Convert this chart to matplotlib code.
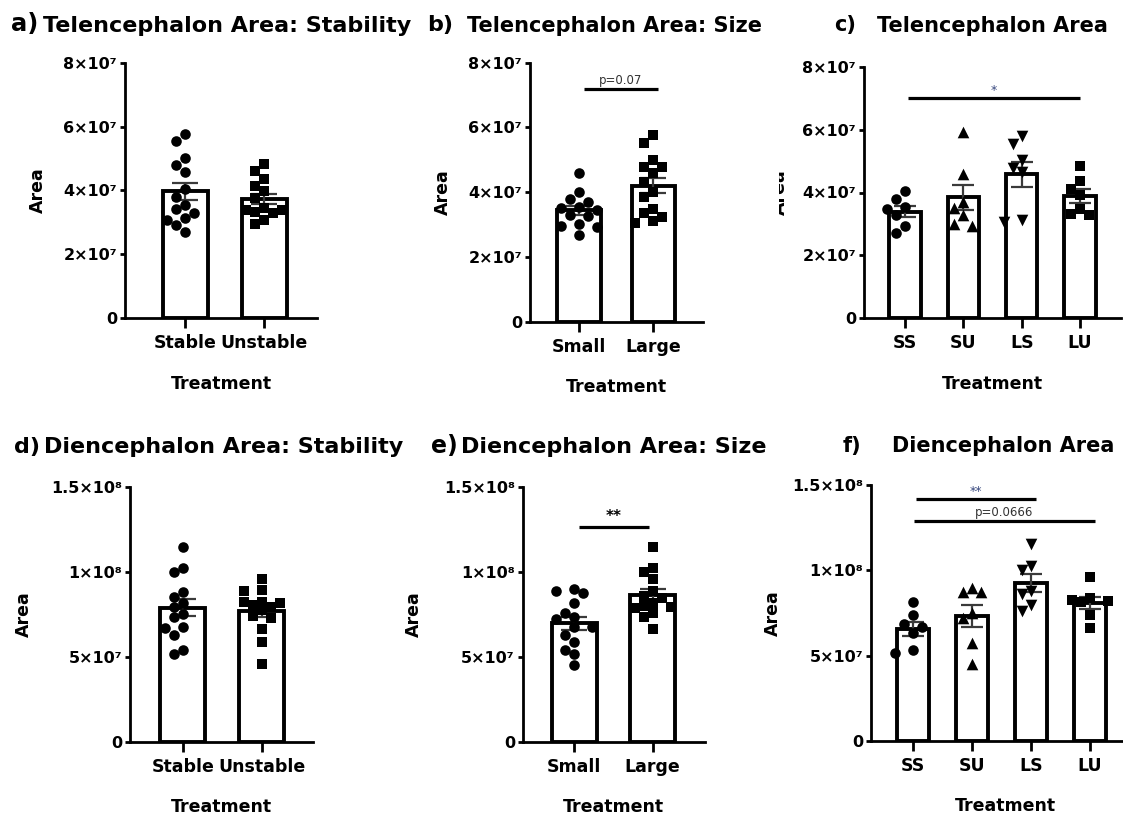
import numpy as np
import matplotlib
matplotlib.use("Agg")
import matplotlib.pyplot as plt
from matplotlib.transforms import Bbox, TransformedBbox

W, H = 1123, 816
plt.rcParams["font.family"] = "DejaVu Sans"

# ── Data (areas in units of 1e7) ──────────────────────────────────────────────
stab_groups = ["Stable", "Unstable"]
size_groups = ["Small", "Large"]
treat_groups = ["SS", "SU", "LS", "LU"]

tel_stable   = [5.77, 5.55, 5.02, 4.80, 4.58, 4.04, 3.79, 3.54, 3.42, 3.29, 3.13, 3.07, 2.92, 2.70]
tel_unstable = [4.83, 4.60, 4.36, 4.13, 3.98, 3.75, 3.45, 3.40, 3.38, 3.32, 3.28, 3.07, 2.95]
tel_small    = [4.60, 4.01, 3.78, 3.70, 3.55, 3.50, 3.45, 3.29, 3.25, 3.02, 2.95, 2.93, 2.68]
tel_large    = [5.77, 5.53, 4.99, 4.79, 4.79, 4.58, 4.33, 4.02, 3.86, 3.47, 3.35, 3.24, 3.12, 3.04]
tel_ss = [4.04, 3.79, 3.54, 3.46, 3.28, 2.93, 2.70]
tel_su = [5.92, 4.60, 3.70, 3.52, 3.28, 2.99, 2.93]
tel_ls = [5.80, 5.55, 5.02, 4.78, 4.66, 3.14, 3.07]
tel_lu = [4.83, 4.36, 4.10, 3.92, 3.49, 3.31, 3.28]

die_stable   = [11.48, 10.21, 10.01, 8.84, 8.55, 8.19, 7.96, 7.53, 7.33, 6.79, 6.73, 6.30, 5.42, 5.16]
die_unstable = [9.58, 8.92, 8.88, 8.25, 8.25, 8.19, 8.05, 7.96, 7.75, 7.41, 7.30, 6.63, 5.90, 4.58]
die_small    = [8.98, 8.88, 8.78, 8.16, 7.61, 7.33, 7.24, 6.75, 6.75, 6.30, 5.90, 5.42, 5.18, 4.54]
die_large    = [11.48, 10.21, 10.01, 9.56, 8.90, 8.60, 8.45, 8.20, 8.00, 7.92, 7.90, 7.61, 7.37, 6.63]
die_ss = [8.16, 7.38, 6.84, 6.70, 6.35, 5.33, 5.18]
die_su = [8.95, 8.75, 8.75, 7.50, 7.19, 5.75, 4.49]
die_ls = [11.54, 10.25, 10.02, 8.79, 8.60, 7.97, 7.62]
die_lu = [9.60, 8.35, 8.25, 8.20, 8.15, 7.38, 6.60]

tel_ticks = [0, 2, 4, 6, 8]
tel_ticklabels = ["0", "2×10⁷", "4×10⁷", "6×10⁷", "8×10⁷"]
die_ticks = [0, 5, 10, 15]
die_ticklabels = ["0", "5×10⁷", "1×10⁸", "1.5×10⁸"]

# significance brackets: (x0, x1, y, label, style)
sig_b = [(0.07, 1.06, 7.2, "p=0.07", "p")]
sig_c = [(0.05, 3.0, 7.0, "*", "star_c")]
sig_e = [(0.06, 0.95, 12.65, "**", "star_e")]
sig_f = [(0.06, 2.08, 14.16, "**", "star_c"), (0.02, 3.08, 12.91, "p=0.0666", "p")]

panels = [
    dict(tag="a)", title="Telencephalon Area: Stability", groups=stab_groups,
         data=[tel_stable, tel_unstable], markers=["o", "s"], yt=tel_ticks, ytl=tel_ticklabels,
         sig=[], box=(125, 63, 317, 318), xlim=(-0.76, 1.67), bw=0.57,
         tagpos=(11, 31.5, 17.5), titlepos=(43, 31.5, 16), ylab_x=47, xlab_y=375),
    dict(tag="b)", title="Telencephalon Area: Size", groups=size_groups,
         data=[tel_small, tel_large], markers=["o", "s"], yt=tel_ticks, ytl=tel_ticklabels,
         sig=sig_b, box=(530, 62.7, 703, 321.7), xlim=(-0.66, 1.67), bw=0.58,
         tagpos=(427, 31.5, 16), titlepos=(467, 31.5, 15), ylab_x=452, xlab_y=378),
    dict(tag="c)", title="Telencephalon Area", groups=treat_groups,
         data=[tel_ss, tel_su, tel_ls, tel_lu], markers=["o", "^", "v", "s"], yt=tel_ticks,
         ytl=tel_ticklabels, sig=sig_c, box=(864, 66.7, 1121, 318.3), xlim=(-0.70, 3.70), bw=0.54,
         tagpos=(834, 31.5, 15), titlepos=(877, 31.5, 15), ylab_x=789, xlab_y=375),
    dict(tag="d)", title="Diencephalon Area: Stability", groups=stab_groups,
         data=[die_stable, die_unstable], markers=["o", "s"], yt=die_ticks, ytl=die_ticklabels,
         sig=[], box=(130, 486.7, 313, 742.3), xlim=(-0.67, 1.65), bw=0.57,
         tagpos=(14, 453, 16), titlepos=(44, 453, 16), ylab_x=33, xlab_y=798),
    dict(tag="e)", title="Diencephalon Area: Size", groups=size_groups,
         data=[die_small, die_large], markers=["o", "s"], yt=die_ticks, ytl=die_ticklabels,
         sig=sig_e, box=(522.7, 486.7, 705, 742.3), xlim=(-0.66, 1.67), bw=0.57,
         tagpos=(431, 453, 17), titlepos=(461, 453, 16), ylab_x=423, xlab_y=798),
    dict(tag="f)", title="Diencephalon Area", groups=treat_groups,
         data=[die_ss, die_su, die_ls, die_lu], markers=["o", "^", "v", "s"], yt=die_ticks,
         ytl=die_ticklabels, sig=sig_f, box=(871, 485, 1140, 741), xlim=(-0.71, 3.85), bw=0.54,
         tagpos=(843, 452, 15), titlepos=(892, 452, 15), ylab_x=782, xlab_y=797),
]

MSIZE = {"o": 58, "s": 52, "^": 70, "v": 70}


def swarm_x(ax, x0, vals, step=9.0, gap=9.5, kmax=2):
    """Spread points sideways (in pixels), at most kmax steps from the centre."""
    pts = ax.transData.transform(np.column_stack([np.full(len(vals), x0), vals]))
    ys = pts[:, 1]
    placed, offs = [], np.zeros(len(vals))
    cands = [0]
    for k in range(1, kmax + 1):
        cands += [-k, k]
    for i in np.argsort(-ys):
        best, best_d = 0.0, -1.0
        for k in cands:
            dx = k * step
            dmin = min([np.hypot(dx - px, ys[i] - py) for px, py in placed] or [np.inf])
            if dmin >= gap:
                best = dx
                break
            if dmin > best_d:
                best, best_d = dx, dmin
        placed.append((best, ys[i]))
        offs[i] = best
    back = ax.transData.inverted().transform(np.column_stack([pts[:, 0] + offs, ys]))
    return back[:, 0]


fig = plt.figure(figsize=(W / 100, H / 100), dpi=100)

for p in panels:
    l, t, r, b = p["box"]
    ax = fig.add_axes([l / W, 1 - b / H, (r - l) / W, (b - t) / H])
    ax.set_xlim(*p["xlim"])
    ax.set_ylim(0, p["yt"][-1])
    for s in ["top", "right"]:
        ax.spines[s].set_visible(False)
    for s in ["left", "bottom"]:
        ax.spines[s].set_linewidth(2.0)

    xs = np.arange(len(p["groups"]))
    means = [np.mean(d) for d in p["data"]]
    sems = [np.std(d, ddof=1) / np.sqrt(len(d)) for d in p["data"]]
    ax.bar(xs, means, width=p["bw"], color="white", edgecolor="black", linewidth=2.8, zorder=2)
    cap = 9.5 if len(xs) == 2 else 8
    ax.errorbar(xs, means, yerr=sems, fmt="none", ecolor="#3a3a3a", elinewidth=1.6,
                capsize=cap, capthick=1.6, zorder=3)
    for xi, d, m in zip(xs, p["data"], p["markers"]):
        sx = swarm_x(ax, xi, d)
        ax.scatter(sx, d, marker=m, s=MSIZE[m], color="black", linewidths=0, zorder=4, clip_on=False)

    for x0, x1, y, lab, style in p["sig"]:
        ax.plot([x0, x1], [y, y], color="black", lw=2.3, solid_capstyle="butt", clip_on=False, zorder=5)
        xm = (x0 + x1) / 2
        if style == "p":
            ax.annotate(lab, (xm, y), xytext=(0, 1.5), textcoords="offset points",
                        ha="center", va="bottom", fontsize=8.5, color="#333333")
        elif style == "star_e":
            ax.annotate(lab, (xm, y), xytext=(0, 2), textcoords="offset points",
                        ha="center", va="bottom", fontsize=11, fontweight="bold", color="black")
        else:
            ax.annotate(lab, (xm, y), xytext=(0, 1), textcoords="offset points",
                        ha="center", va="bottom", fontsize=9, color="#3a4a80")

    ax.set_xticks(xs)
    ax.set_xticklabels(p["groups"], fontsize=12.5, fontweight="bold")
    ax.set_yticks(p["yt"])
    ax.set_yticklabels(p["ytl"], fontsize=11.5, fontweight="bold")
    ax.tick_params(axis="x", length=7, width=2, pad=4.5)
    ax.tick_params(axis="y", length=3.6, width=2, pad=2)

    ax.set_xlabel("Treatment", fontsize=12.5, fontweight="bold")
    ax.set_ylabel("Area", fontsize=12.5, fontweight="bold")
    ax.xaxis.set_label_coords(0.5, -(p["xlab_y"] - b) / (b - t))
    ax.yaxis.set_label_coords((p["ylab_x"] - l) / (r - l), 0.5)

    tx, ty, tfs = p["tagpos"]
    fig.text(tx / W, 1 - ty / H, p["tag"], fontsize=tfs, fontweight="bold", va="baseline")
    tx, ty, tfs = p["titlepos"]
    fig.text(tx / W, 1 - ty / H, p["title"], fontsize=tfs, fontweight="bold", va="baseline")

    if p["tag"] == "c)":
        # left half of this y label sits under the neighbouring panel
        clip = TransformedBbox(Bbox([[779 / W, 0], [1, 1]]), fig.transFigure)
        ax.yaxis.label.set_clip_box(clip)
        ax.yaxis.label.set_clip_on(True)

fig.savefig("out.png", dpi=100, facecolor="white")
